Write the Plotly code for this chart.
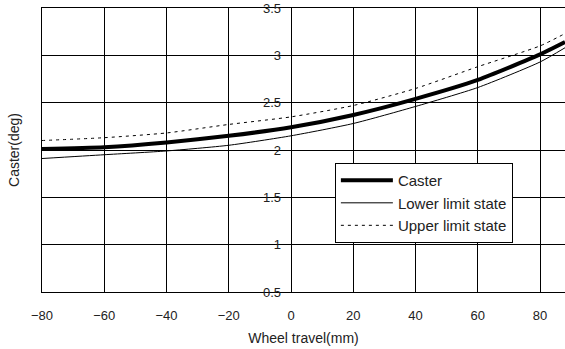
import plotly.graph_objects as go

travel = [-80, -60, -40, -20, 0, 20, 40, 60, 80, 88]
caster = [2.01, 2.03, 2.08, 2.15, 2.24, 2.37, 2.54, 2.74, 3.01, 3.14]
lower = [1.91, 1.95, 1.99, 2.05, 2.15, 2.28, 2.46, 2.66, 2.93, 3.08]
upper = [2.10, 2.13, 2.18, 2.27, 2.35, 2.47, 2.65, 2.88, 3.10, 3.23]

x_ticks = [-80, -60, -40, -20, 0, 20, 40, 60, 80]
y_ticks = [0.5, 1, 1.5, 2, 2.5, 3, 3.5]
y_ticktext = ["0.5", "1", "1.5", "2", "2.5", "3", "3.5"]

FONT = "Liberation Sans, Arial, sans-serif"

fig = go.Figure()
fig.add_trace(go.Scatter(x=travel, y=caster, mode="lines", name="Caster",
                         line=dict(color="black", width=4, shape="spline", smoothing=0.6)))
fig.add_trace(go.Scatter(x=travel, y=lower, mode="lines", name="Lower limit state", yaxis="y2",
                         line=dict(color="black", width=1, shape="spline", smoothing=0.6)))
fig.add_trace(go.Scatter(x=travel, y=upper, mode="lines", name="Upper limit state",
                         line=dict(color="black", width=1, dash="3px,4px", shape="spline", smoothing=0.6)))

xr = [-80, 88]
yr = [0.5, 3.5]
fig.update_layout(
    width=565, height=349,
    margin=dict(l=42, r=0, t=8, b=57),
    paper_bgcolor="white", plot_bgcolor="white",
    font=dict(family=FONT, size=13, color="#222"),
    showlegend=True,
    legend=dict(x=0.56, y=0.454, xanchor="left", yanchor="top",
                bgcolor="white", bordercolor="black", borderwidth=1,
                itemwidth=52,
                font=dict(size=15, color="#222")),
    xaxis=dict(range=xr, tickvals=x_ticks, showgrid=True, gridcolor="black", gridwidth=1,
               showline=True, linecolor="black", linewidth=1, mirror=True, zeroline=False,
               ticks="", ticklabelstandoff=11, tickfont=dict(size=13),
               title=dict(text="Wheel travel(mm)", font=dict(size=14), standoff=11),
               automargin=False),
    yaxis=dict(range=yr, tickvals=y_ticks, showgrid=True, gridcolor="black", gridwidth=1,
               showline=True, linecolor="black", linewidth=1, mirror=True, zeroline=False,
               showticklabels=False, ticks="",
               title=dict(text="Caster(deg)", font=dict(size=14), standoff=18),
               automargin=False),
    yaxis2=dict(overlaying="y", anchor="free", position=(0 - xr[0]) / (xr[1] - xr[0]),
                range=yr, tickvals=y_ticks, ticktext=y_ticktext,
                showgrid=False, showline=False, zeroline=False, ticks="",
                ticklabeloverflow="allow",
                ticklabelstandoff=10, tickfont=dict(size=13), automargin=False),
)

fig.write_html("out.html", config={"displayModeBar": False},
               post_script="document.body.style.margin='0';document.body.style.overflow='hidden';")
